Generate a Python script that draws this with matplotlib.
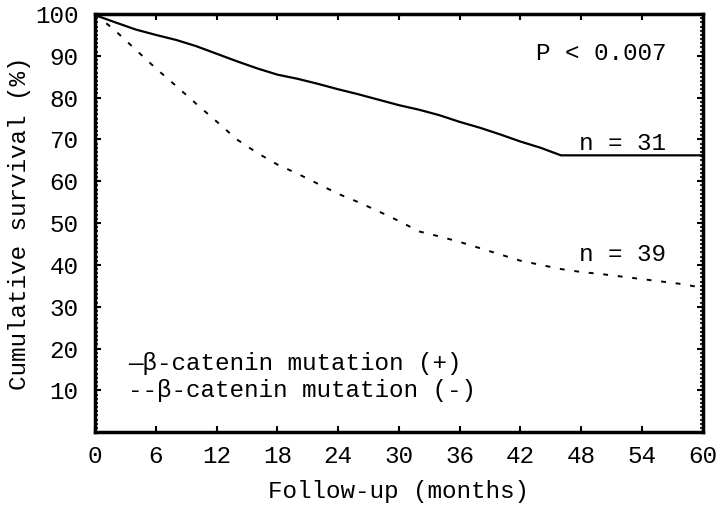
import matplotlib
matplotlib.use("Agg")
import matplotlib.pyplot as plt
import numpy as np
from matplotlib.ticker import MultipleLocator

plt.rcParams['font.family'] = ['Liberation Mono', 'DejaVu Sans Mono']

# Survival curves (months, %)
months_pos = [0, 0.5, 2, 4, 6, 8, 10, 12, 14, 16, 18, 20, 22, 24, 26, 28, 30, 32, 34, 36, 38, 40, 42, 44, 46, 60]
surv_pos = [100, 99.3, 98, 96.3, 95, 93.8, 92.3, 90.5, 88.7, 87, 85.5, 84.5, 83.3, 82, 80.8, 79.5, 78.2, 77.1, 75.8, 74.2, 72.8, 71.2, 69.5, 68, 66.2, 66.2]
months_neg = [0, 1, 2, 4, 6, 8, 10, 12, 14, 16, 18, 20, 22, 24, 26, 28, 30, 32, 34, 36, 38, 40, 42, 44, 46, 48, 50, 52, 54, 56, 58, 60]
surv_neg = [100, 98, 96, 91.5, 87, 82.8, 78.5, 74.3, 70, 66.8, 64, 61.8, 59.4, 57, 55, 52.8, 50.5, 48, 46.8, 45.5, 44, 42.5, 41, 40, 39, 38.3, 37.8, 37.2, 36.6, 36, 35.4, 34.5]

xticks = [0, 6, 12, 18, 24, 30, 36, 42, 48, 54, 60]
yticks = [10, 20, 30, 40, 50, 60, 70, 80, 90, 100]

fig = plt.figure(figsize=(7.2, 5.09), dpi=100)
ax = fig.add_axes([0.132, 0.151, 0.844, 0.8215])

ax.plot(months_pos, surv_pos, color='black', lw=1.6)
ax.plot(months_neg, surv_neg, color='black', lw=1.4, linestyle=(0, (2.5, 5)))

ax.set_xlim(0, 60)
ax.set_ylim(0, 100)
ax.set_xticks(xticks)
ax.set_yticks(yticks)
ax.yaxis.set_minor_locator(MultipleLocator(1))
ax.tick_params(axis='both', which='major', direction='in', length=4, width=1.5, labelsize=17.5,
               top=True, right=True)
ax.tick_params(axis='y', which='minor', direction='in', length=2.5, width=1.2, right=True)
ax.tick_params(axis='x', which='major', pad=9)
ax.tick_params(axis='y', which='major', pad=12)
for s in ax.spines.values():
    s.set_linewidth(2.5)

ax.set_xlabel('Follow-up (months)', fontsize=17.5, labelpad=9)
ax.set_ylabel('Cumulative survival (%)', fontsize=17.5, labelpad=3)

ax.text(0.94, 0.905, 'P < 0.007', transform=ax.transAxes, ha='right', va='center', fontsize=17.5)
ax.text(0.94, 0.69, 'n = 31', transform=ax.transAxes, ha='right', va='center', fontsize=17.5)
ax.text(0.94, 0.425, 'n = 39', transform=ax.transAxes, ha='right', va='center', fontsize=17.5)

ax.text(0.055, 0.165, '\u2014\u03b2-catenin mutation (+)', transform=ax.transAxes, ha='left', va='center', fontsize=17.5)
ax.text(0.055, 0.1, '--\u03b2-catenin mutation (-)', transform=ax.transAxes, ha='left', va='center', fontsize=17.5)

fig.savefig('out.png', dpi=100)
